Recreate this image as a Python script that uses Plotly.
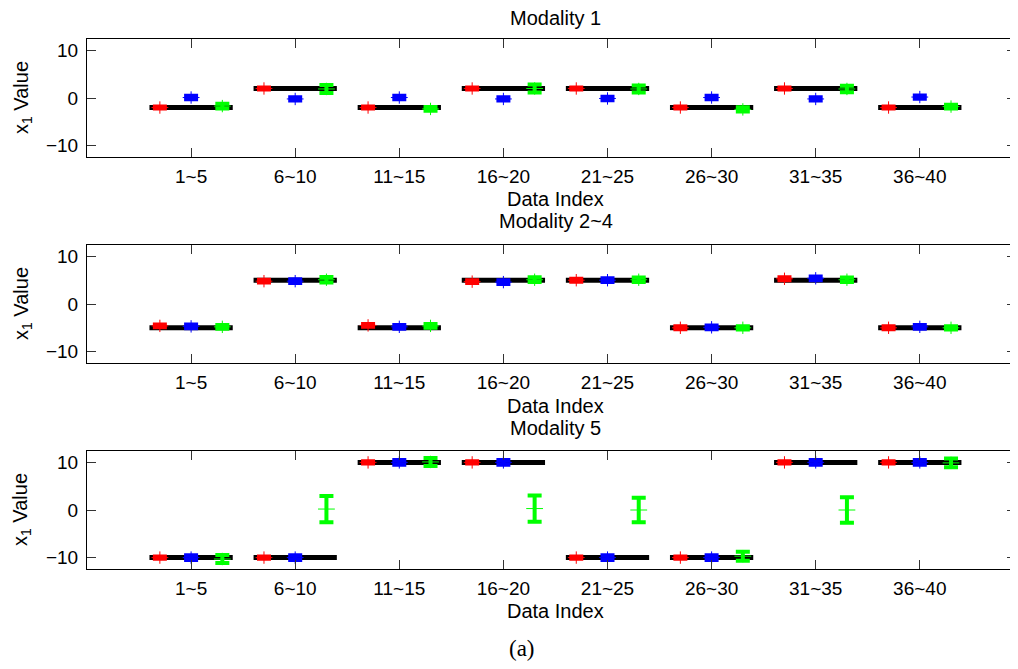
import plotly.graph_objects as go

# ---------------- data ----------------
categories = ["1~5", "6~10", "11~15", "16~20", "21~25", "26~30", "31~35", "36~40"]
panel_titles = ["Modality 1", "Modality 2~4", "Modality 5"]

# Modality 1
m1_true = [-2, 2, -2, 2, 2, -2, 2, -2]
m1_red_c = [-2.0, 2.0, -2.0, 2.0, 2.0, -2.0, 2.0, -2.0]
m1_red_h = [0.2, 0.2, 0.2, 0.2, 0.2, 0.2, 0.2, 0.2]
m1_blue_c = [0.1, -0.2, 0.1, -0.2, -0.1, 0.1, -0.2, 0.2]
m1_blue_h = [0.35, 0.35, 0.35, 0.35, 0.35, 0.35, 0.35, 0.35]
m1_green_c = [-1.7, 1.9, -2.3, 2.0, 1.9, -2.4, 1.9, -1.8]
m1_green_h = [0.5, 0.85, 0.4, 0.85, 0.75, 0.45, 0.7, 0.4]

# Modality 2~4
m2_true = [-5, 5, -5, 5, 5, -5, 5, -5]
m2_red_c = [-4.6, 4.8, -4.5, 4.7, 5.0, -5.0, 5.3, -5.0]
m2_red_h = [0.3, 0.3, 0.3, 0.3, 0.3, 0.3, 0.3, 0.3]
m2_blue_c = [-4.7, 4.8, -4.8, 4.6, 5.0, -4.9, 5.4, -4.8]
m2_blue_h = [0.4, 0.4, 0.4, 0.4, 0.4, 0.4, 0.4, 0.4]
m2_green_c = [-4.8, 5.1, -4.6, 5.1, 5.1, -5.0, 5.1, -5.0]
m2_green_h = [0.4, 0.6, 0.4, 0.5, 0.45, 0.35, 0.45, 0.35]

# Modality 5
m3_true = [-10, -10, 10, 10, -10, -10, 10, 10]
m3_red_c = [-10.0, -10.0, 10.0, 10.0, -10.0, -10.0, 10.0, 10.0]
m3_red_h = [0.25, 0.25, 0.25, 0.25, 0.25, 0.25, 0.25, 0.25]
m3_blue_c = [-10.0, -10.0, 10.0, 10.0, -10.0, -10.0, 10.0, 10.0]
m3_blue_h = [0.5, 0.5, 0.5, 0.5, 0.5, 0.5, 0.5, 0.5]
m3_green_c = [-10.3, 0.2, 10.1, 0.3, 0.0, -9.7, 0.0, 9.9]
m3_green_h = [0.85, 2.75, 0.85, 2.75, 2.6, 0.95, 2.7, 0.9]

whisker = 1.3

panels = [
    (m1_true, [(m1_red_c, m1_red_h), (m1_blue_c, m1_blue_h), (m1_green_c, m1_green_h)]),
    (m2_true, [(m2_red_c, m2_red_h), (m2_blue_c, m2_blue_h), (m2_green_c, m2_green_h)]),
    (m3_true, [(m3_red_c, m3_red_h), (m3_blue_c, m3_blue_h), (m3_green_c, m3_green_h)]),
]
series_colors = ["#FF0000", "#0000FF", "#00FF00"]
series_offsets = [-0.3, 0.0, 0.3]
y_ticks = [-10, 0, 10]
y_range = [-12.4, 12.4]

# ---------------- layout geometry ----------------
# the page body has an 8px margin on every side; keep the figure inside the window
OFF = 8
W, H = 1018 - 2 * OFF, 669 - 2 * OFF


def px_x(x):
    return (x - OFF) / W


def px_y(y):
    return 1 - (y - OFF) / H


pos = list(range(1, len(categories) + 1))
panel_px = [(39, 157), (245, 363), (451, 569)]
data_index_y = [199, 406, 611]
title_y = [18, 221, 428]
font_family = "Liberation Sans, Arial, Helvetica, sans-serif"
FS_TICK = 19
FS_TITLE = 20
x_left_px = 87
x_step_px = 104.1
x_max = (OFF + W - x_left_px) / x_step_px

fig = go.Figure()

for k, (true_vals, series) in enumerate(panels):
    xr = "x" if k == 0 else f"x{k+1}"
    yr = "y" if k == 0 else f"y{k+1}"
    # black reference lines
    lx, ly = [], []
    for p, v in zip(pos, true_vals):
        lx += [p - 0.4, p + 0.4, None]
        ly += [v, v, None]
    fig.add_trace(go.Scatter(x=lx, y=ly, mode="lines", line=dict(color="black", width=5),
                             xaxis=xr, yaxis=yr, showlegend=False, hoverinfo="skip"))
    for (cvals, hvals), col, off in zip(series, series_colors, series_offsets):
        xs = [p + off for p in pos]
        # thick bar with caps
        fig.add_trace(go.Scatter(
            x=xs, y=cvals, mode="markers", marker=dict(size=1, color="rgba(0,0,0,0)"),
            error_y=dict(type="data", array=hvals, symmetric=True, color=col,
                         thickness=4, width=7),
            xaxis=xr, yaxis=yr, showlegend=False, hoverinfo="skip"))
        # thin whisker + median tick
        fig.add_trace(go.Scatter(
            x=xs, y=cvals, mode="markers",
            marker=dict(symbol="line-ew", size=12, line=dict(color=col, width=1)),
            error_y=dict(type="data", array=[whisker] * len(cvals), symmetric=True,
                         color=col, thickness=1, width=0),
            xaxis=xr, yaxis=yr, showlegend=False, hoverinfo="skip"))
    # invisible trace on a right-side axis so its inward ticks get drawn
    fig.add_trace(go.Scatter(x=[pos[0]], y=[true_vals[0]], mode="markers",
                             marker=dict(size=1, color="rgba(0,0,0,0)"),
                             xaxis=xr, yaxis=f"y{k+4}", showlegend=False, hoverinfo="skip"))

layout = dict(
    width=W, height=H,
    margin=dict(l=0, r=0, t=0, b=0),
    paper_bgcolor="white", plot_bgcolor="white",
    showlegend=False,
    font=dict(family=font_family, size=FS_TICK, color="black"),
)
annotations = []
for k in range(3):
    top, bot = panel_px[k]
    xname = "xaxis" if k == 0 else f"xaxis{k+1}"
    yname = "yaxis" if k == 0 else f"yaxis{k+1}"
    yanchor_name = "y" if k == 0 else f"y{k+1}"
    xanchor_name = "x" if k == 0 else f"x{k+1}"
    layout[xname] = dict(
        domain=[px_x(x_left_px), 1.0], range=[0, x_max], anchor=yanchor_name,
        tickmode="array", tickvals=pos, ticktext=categories,
        ticks="inside", ticklen=9, tickcolor="#333", tickwidth=1,
        showline=True, linecolor="black", linewidth=1, mirror="ticks",
        showgrid=False, zeroline=False, ticklabelstandoff=2,
        tickfont=dict(family=font_family, size=FS_TICK, color="black"),
    )
    layout[yname] = dict(
        domain=[px_y(bot), px_y(top)], range=y_range, anchor=xanchor_name,
        tickmode="array", tickvals=y_ticks,
        ticks="inside", ticklen=9, tickcolor="#333", tickwidth=1,
        showline=True, linecolor="black", linewidth=1, mirror=False,
        showgrid=False, zeroline=False, ticklabelstandoff=4,
        tickfont=dict(family=font_family, size=FS_TICK, color="black"),
    )
    # right-hand ticks without a border line (the reference is cropped there)
    layout[f"yaxis{k+4}"] = dict(
        overlaying=yanchor_name, side="right", anchor=xanchor_name,
        range=y_range, tickmode="array", tickvals=y_ticks,
        ticks="inside", ticklen=3, tickcolor="#333", tickwidth=1,
        showline=False, showgrid=False, zeroline=False, showticklabels=False,
    )
    annotations.append(dict(text=panel_titles[k], x=px_x(555.5), y=px_y(title_y[k]),
                            xref="paper", yref="paper", xanchor="center", yanchor="middle",
                            showarrow=False, font=dict(size=FS_TITLE, family=font_family)))
    annotations.append(dict(text="Data Index", x=px_x(555.5), y=px_y(data_index_y[k]),
                            xref="paper", yref="paper", xanchor="center", yanchor="middle",
                            showarrow=False, font=dict(size=FS_TITLE, family=font_family)))
    annotations.append(dict(text="x<sub>1</sub> Value", x=px_x(22), y=px_y((top + bot) / 2),
                            xref="paper", yref="paper", xanchor="center", yanchor="middle",
                            textangle=-90, showarrow=False,
                            font=dict(size=FS_TITLE, family=font_family)))
annotations.append(dict(text="(a)", x=px_x(522), y=px_y(648), xref="paper", yref="paper",
                        xanchor="center", yanchor="middle", showarrow=False,
                        font=dict(size=23, family="Liberation Serif, DejaVu Serif, serif")))
layout["annotations"] = annotations

fig.update_layout(**layout)
fig.write_html("out.html")
